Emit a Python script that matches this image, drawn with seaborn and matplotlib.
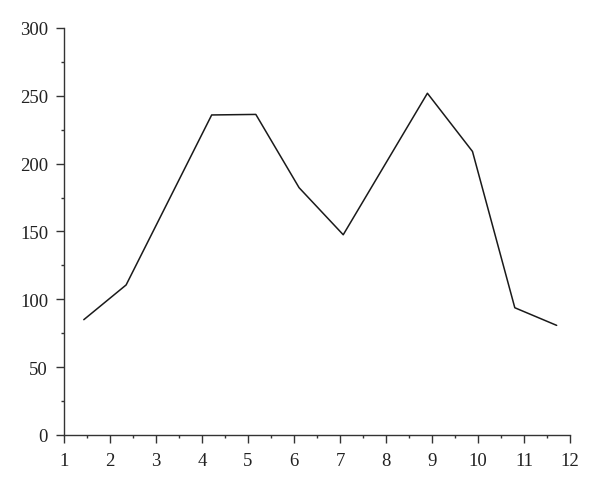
import matplotlib
matplotlib.use("Agg")
import matplotlib.pyplot as plt
import seaborn as sns
import pandas as pd
from matplotlib.ticker import MultipleLocator

x_values = [1.43, 2.35, 4.21, 5.17, 6.11, 7.07, 8.90, 9.88, 10.80, 11.71]
y_values = [85.0, 110.6, 235.9, 236.3, 182.3, 147.6, 251.9, 209.0, 93.8, 80.8]
x_ticks = [1, 2, 3, 4, 5, 6, 7, 8, 9, 10, 11, 12]
y_ticks = [0, 50, 100, 150, 200, 250, 300]

df = pd.DataFrame({"x": x_values, "y": y_values})

sns.set_style("ticks")
plt.rcParams["font.family"] = ["Liberation Serif", "DejaVu Serif"]

fig = plt.figure(figsize=(6.0, 4.89), dpi=100)
ax = fig.add_axes([0.1067, 0.1084, 0.8433, 0.8323])
sns.lineplot(data=df, x="x", y="y", ax=ax, color="#1a1a1a", linewidth=1.1, sort=False)

ax.set_xlim(1, 12)
ax.set_ylim(0, 300)
ax.set_xticks(x_ticks)
ax.set_yticks(y_ticks)
ax.xaxis.set_minor_locator(MultipleLocator(0.5))
ax.yaxis.set_minor_locator(MultipleLocator(25))
ax.set_xlabel("")
ax.set_ylabel("")
for s in ["top", "right"]:
    ax.spines[s].set_visible(False)
for s in ["left", "bottom"]:
    ax.spines[s].set_color("#333333")
    ax.spines[s].set_linewidth(1.0)
ax.tick_params(axis="both", which="major", direction="out", length=5.5, width=1.0,
               color="#333333", labelsize=13.5, labelcolor="#222222")
ax.tick_params(axis="x", which="major", pad=7)
ax.tick_params(axis="y", which="major", pad=6)
ax.tick_params(axis="both", which="minor", direction="out", length=2.5, width=1.0,
               color="#333333")
ax.set_facecolor("white")
fig.patch.set_facecolor("white")

fig.savefig("out.png", dpi=100, facecolor="white")
